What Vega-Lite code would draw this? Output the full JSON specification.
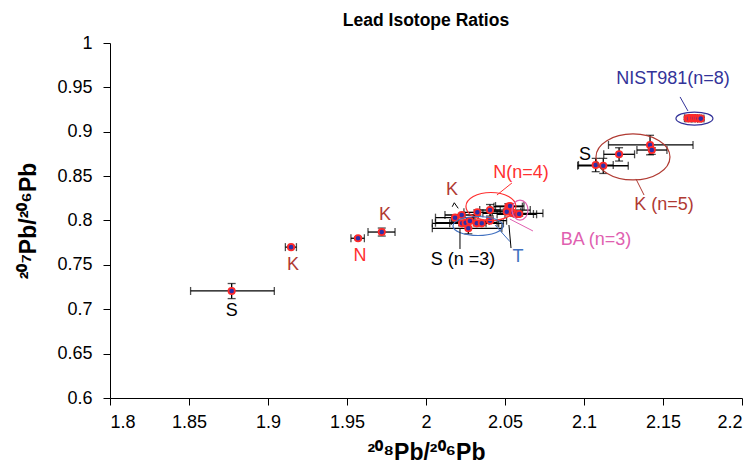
{
  "$schema": "https://vega.github.io/schema/vega-lite/v6.json",
  "autosize": {"type": "none"},
  "padding": {"left": 110, "top": 43, "right": 14, "bottom": 76},
  "width": 632,
  "height": 355,
  "background": "white",
  "config": {
    "view": {"stroke": null},
    "font": "Liberation Sans",
    "axis": {
      "grid": false,
      "domainColor": "black",
      "tickColor": "black",
      "labelColor": "black",
      "titleColor": "black",
      "labelFont": "Liberation Sans",
      "labelFontSize": 18,
      "titleFont": "Liberation Sans",
      "titleFontSize": 23,
      "titleFontWeight": "bold",
      "tickSize": 7
    }
  },
  "title": {
    "text": "Lead Isotope Ratios",
    "font": "Liberation Sans",
    "fontSize": 17.5,
    "fontWeight": "bold",
    "anchor": "middle",
    "offset": 5,
    "color": "black"
  },
  "datasets": {
    "pts": [
      {"x": 1.877, "y": 0.7206, "xlo": 1.851, "xhi": 1.904, "ylo": 0.712, "yhi": 0.729},
      {"x": 1.9146, "y": 0.770, "xlo": 1.911, "xhi": 1.918, "ylo": 0.769, "yhi": 0.771},
      {"x": 1.957, "y": 0.780, "xlo": 1.9525, "xhi": 1.961, "ylo": 0.7785, "yhi": 0.7815},
      {"x": 1.972, "y": 0.787, "xlo": 1.9633, "xhi": 1.9804, "ylo": 0.7825, "yhi": 0.7915},
      {"x": 2.0184, "y": 0.8032, "xlo": 2.006, "xhi": 2.031, "ylo": 0.801, "yhi": 0.805},
      {"x": 2.0226, "y": 0.8062, "xlo": 2.012, "xhi": 2.033, "ylo": 0.804, "yhi": 0.808},
      {"x": 2.0325, "y": 0.8092, "xlo": 2.024, "xhi": 2.041, "ylo": 0.806, "yhi": 0.812},
      {"x": 2.0405, "y": 0.8118, "xlo": 2.034, "xhi": 2.047, "ylo": 0.805, "yhi": 0.818},
      {"x": 2.0228, "y": 0.7968, "xlo": 2.004, "xhi": 2.038, "ylo": 0.794, "yhi": 0.800},
      {"x": 2.0251, "y": 0.7975, "xlo": 2.006, "xhi": 2.045, "ylo": 0.795, "yhi": 0.800},
      {"x": 2.0278, "y": 0.7994, "xlo": 2.016, "xhi": 2.040, "ylo": 0.797, "yhi": 0.802},
      {"x": 2.0321, "y": 0.7968, "xlo": 2.015, "xhi": 2.049, "ylo": 0.794, "yhi": 0.800},
      {"x": 2.0353, "y": 0.7968, "xlo": 2.025, "xhi": 2.046, "ylo": 0.795, "yhi": 0.799},
      {"x": 2.0268, "y": 0.7912, "xlo": 2.004, "xhi": 2.048, "ylo": 0.785, "yhi": 0.797},
      {"x": 2.0405, "y": 0.7998, "xlo": 2.030, "xhi": 2.051, "ylo": 0.797, "yhi": 0.803},
      {"x": 2.0521, "y": 0.8156, "xlo": 2.043, "xhi": 2.061, "ylo": 0.812, "yhi": 0.819},
      {"x": 2.0532, "y": 0.8118, "xlo": 2.041, "xhi": 2.066, "ylo": 0.809, "yhi": 0.815},
      {"x": 2.0511, "y": 0.8099, "xlo": 2.042, "xhi": 2.060, "ylo": 0.807, "yhi": 0.813},
      {"x": 2.0553, "y": 0.8081, "xlo": 2.036, "xhi": 2.074, "ylo": 0.805, "yhi": 0.811},
      {"x": 2.0574, "y": 0.8070, "xlo": 2.045, "xhi": 2.070, "ylo": 0.804, "yhi": 0.810},
      {"x": 2.0590, "y": 0.8073, "xlo": 2.050, "xhi": 2.068, "ylo": 0.805, "yhi": 0.810},
      {"x": 2.0532, "y": 0.8163, "xlo": 2.044, "xhi": 2.062, "ylo": 0.814, "yhi": 0.819},
      {"x": 2.1418, "y": 0.8851, "xlo": 2.1155, "xhi": 2.169, "ylo": 0.874, "yhi": 0.896},
      {"x": 2.1429, "y": 0.8794, "xlo": 2.1335, "xhi": 2.1525, "ylo": 0.8745, "yhi": 0.882},
      {"x": 2.1222, "y": 0.8746, "xlo": 2.1125, "xhi": 2.132, "ylo": 0.867, "yhi": 0.882},
      {"x": 2.1074, "y": 0.8625, "xlo": 2.0965, "xhi": 2.1185, "ylo": 0.855, "yhi": 0.870},
      {"x": 2.1122, "y": 0.8617, "xlo": 2.096, "xhi": 2.128, "ylo": 0.853, "yhi": 0.870},
      {"x": 2.1656, "y": 0.9152, "xlo": 2.1636, "xhi": 2.1676, "ylo": 0.9137, "yhi": 0.9167},
      {"x": 2.1665, "y": 0.9150, "xlo": 2.1645, "xhi": 2.1685, "ylo": 0.9135, "yhi": 0.9165},
      {"x": 2.1680, "y": 0.9153, "xlo": 2.1660, "xhi": 2.1700, "ylo": 0.9138, "yhi": 0.9168},
      {"x": 2.1688, "y": 0.9155, "xlo": 2.1668, "xhi": 2.1708, "ylo": 0.9140, "yhi": 0.9170},
      {"x": 2.1700, "y": 0.9151, "xlo": 2.1680, "xhi": 2.1720, "ylo": 0.9136, "yhi": 0.9166},
      {"x": 2.1713, "y": 0.9152, "xlo": 2.1693, "xhi": 2.1733, "ylo": 0.9137, "yhi": 0.9167},
      {"x": 2.1725, "y": 0.9150, "xlo": 2.1705, "xhi": 2.1745, "ylo": 0.9135, "yhi": 0.9165},
      {"x": 2.1739, "y": 0.9148, "xlo": 2.1719, "xhi": 2.1759, "ylo": 0.9133, "yhi": 0.9163}
    ],
    "ellipses": [
      {"name": "N", "grp": "N", "x": 2.0411, "y": 0.8158},
      {"name": "T", "grp": "T", "x": 2.0329, "y": 0.7938},
      {"name": "BA", "grp": "BA", "x": 2.0595, "y": 0.8118},
      {"name": "NIST", "grp": "NIST", "x": 2.1699, "y": 0.9149},
      {"name": "K5", "grp": "K", "x": 2.1310, "y": 0.8716}
    ],
    "leaders": [
      {"grp": "NIST", "x": 2.1608, "y": 0.9392, "x2": 2.1658, "y2": 0.9234},
      {"grp": "K", "x": 2.1329, "y": 0.8468, "x2": 2.1380, "y2": 0.8287},
      {"grp": "N", "x": 2.0449, "y": 0.8287, "x2": 2.0544, "y2": 0.8423},
      {"grp": "BA", "x": 2.0530, "y": 0.8017, "x2": 2.0677, "y2": 0.7882},
      {"grp": "T", "x": 2.0437, "y": 0.7949, "x2": 2.0532, "y2": 0.7761},
      {"grp": "S", "x": 2.0215, "y": 0.7904, "x2": 2.0215, "y2": 0.7679},
      {"grp": "S", "x": 2.0525, "y": 0.7949, "x2": 2.0538, "y2": 0.7690},
      {"grp": "S", "x": 2.0166, "y": 0.8155, "x2": 2.0179, "y2": 0.8200},
      {"grp": "S", "x": 2.0179, "y": 0.8200, "x2": 2.0204, "y2": 0.8137}
    ],
    "labels": [
      {"label": "S", "grp": "S", "x": 1.877, "y": 0.698},
      {"label": "K", "grp": "K", "x": 1.9158, "y": 0.7499},
      {"label": "N", "grp": "N", "x": 1.9582, "y": 0.760},
      {"label": "K", "grp": "K", "x": 1.974, "y": 0.8062},
      {"label": "K", "grp": "K", "x": 2.0165, "y": 0.8344},
      {"label": "N(n=4)", "grp": "N", "x": 2.0601, "y": 0.8535},
      {"label": "S (n =3)", "grp": "S", "x": 2.0234, "y": 0.7555},
      {"label": "T", "grp": "T", "x": 2.0582, "y": 0.7589},
      {"label": "BA (n=3)", "grp": "BA", "x": 2.1076, "y": 0.778},
      {"label": "NIST981(n=8)", "grp": "NIST", "x": 2.1563, "y": 0.9594},
      {"label": "S", "grp": "S", "x": 2.1006, "y": 0.8738},
      {"label": "K (n=5)", "grp": "K", "x": 2.1506, "y": 0.8175}
    ]
  },
  "encoding": {
    "x": {
      "field": "x", "type": "quantitative",
      "scale": {"domain": [1.8, 2.2], "nice": false, "zero": false},
      "axis": {
        "values": [1.8, 1.85, 1.9, 1.95, 2.0, 2.05, 2.1, 2.15, 2.2],
        "format": "~g",
        "title": "²⁰⁸Pb/²⁰⁶Pb",
        "labelPadding": 8,
        "titlePadding": 10
      }
    },
    "y": {
      "field": "y", "type": "quantitative",
      "scale": {"domain": [0.6, 1.0], "nice": false, "zero": false},
      "axis": {
        "values": [0.6, 0.65, 0.7, 0.75, 0.8, 0.85, 0.9, 0.95, 1.0],
        "format": "~g",
        "title": "²⁰⁷Pb/²⁰⁶Pb",
        "labelPadding": 11,
        "titlePadding": 16
      }
    },
    "color": {
      "field": "grp", "type": "nominal", "legend": null,
      "scale": {
        "domain": ["S", "K", "N", "BA", "T", "NIST"],
        "range": ["#000000", "#b03a32", "#ff3030", "#e060b0", "#4070c0", "#333399"]
      }
    }
  },
  "layer": [
    {
      "data": {"name": "pts"},
      "mark": {"type": "rule", "color": "black", "strokeWidth": 1.3},
      "encoding": {"x": {"field": "xlo", "type": "quantitative"}, "x2": {"field": "xhi"}, "color": {"value": "black"}}
    },
    {
      "data": {"name": "pts"},
      "mark": {"type": "rule", "color": "black", "strokeWidth": 1.3},
      "encoding": {"y": {"field": "ylo", "type": "quantitative"}, "y2": {"field": "yhi"}, "color": {"value": "black"}}
    },
    {
      "data": {"name": "pts"},
      "mark": {"type": "tick", "orient": "vertical", "size": 8, "thickness": 1.3},
      "encoding": {"x": {"field": "xlo", "type": "quantitative"}, "color": {"value": "black"}}
    },
    {
      "data": {"name": "pts"},
      "mark": {"type": "tick", "orient": "vertical", "size": 8, "thickness": 1.3},
      "encoding": {"x": {"field": "xhi", "type": "quantitative"}, "color": {"value": "black"}}
    },
    {
      "data": {"name": "pts"},
      "mark": {"type": "tick", "orient": "horizontal", "size": 8, "thickness": 1.3},
      "encoding": {"y": {"field": "ylo", "type": "quantitative"}, "color": {"value": "black"}}
    },
    {
      "data": {"name": "pts"},
      "mark": {"type": "tick", "orient": "horizontal", "size": 8, "thickness": 1.3},
      "encoding": {"y": {"field": "yhi", "type": "quantitative"}, "color": {"value": "black"}}
    },
    {
      "data": {"name": "pts"},
      "mark": {"type": "point", "shape": "circle", "filled": true, "strokeWidth": 1.8, "size": 40, "opacity": 1},
      "encoding": {"fill": {"value": "#2e2ea8"}, "stroke": {"value": "#ff2a2a"}, "color": {"value": "#2e2ea8"}}
    },
    {
      "data": {"name": "ellipses"},
      "mark": {"type": "point", "filled": false, "size": 4, "strokeWidth": 1.2, "opacity": 1},
      "encoding": {
        "shape": {
          "field": "name", "type": "nominal", "legend": null,
          "scale": {
            "domain": ["N", "T", "BA", "NIST", "K5"],
            "range": [
              "M-25,0A25,14 0 1,0 25,0A25,14 0 1,0 -25,0",
              "M-25,0A25,9.5 0 1,0 25,0A25,9.5 0 1,0 -25,0",
              "M-8,0A8,10 0 1,0 8,0A8,10 0 1,0 -8,0",
              "M-18.5,0A18.5,6.5 0 1,0 18.5,0A18.5,6.5 0 1,0 -18.5,0",
              "M-37,0A37,23 0 1,0 37,0A37,23 0 1,0 -37,0"
            ]
          }
        }
      }
    },
    {
      "data": {"name": "leaders"},
      "mark": {"type": "rule", "strokeWidth": 1},
      "encoding": {
        "x2": {"field": "x2"},
        "y2": {"field": "y2"}
      }
    },
    {
      "data": {"name": "labels"},
      "mark": {"type": "text", "font": "Liberation Sans", "fontSize": 18, "align": "center", "baseline": "middle"},
      "encoding": {
        "text": {"field": "label"}
      }
    }
  ]
}
